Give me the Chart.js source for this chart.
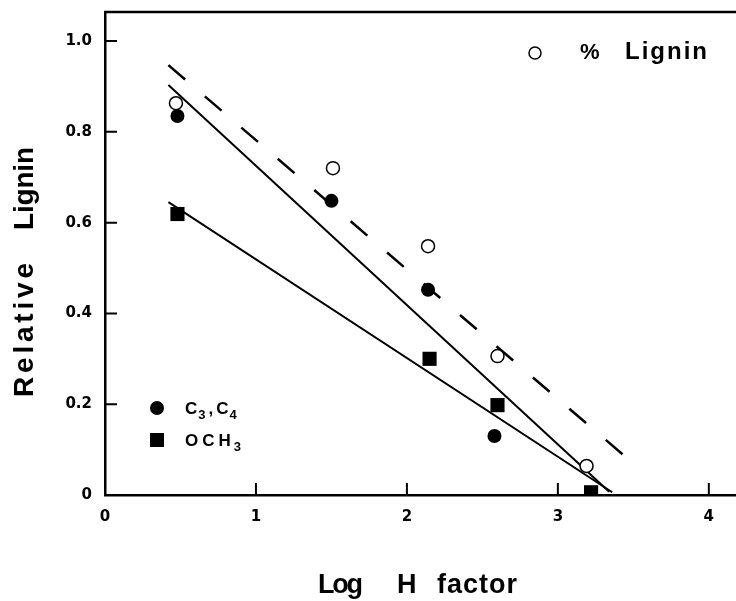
<!DOCTYPE html>
<html>
<head>
<meta charset="utf-8">
<script src="https://cdn.jsdelivr.net/npm/chart.js@4.4.1/dist/chart.umd.min.js"></script>
<style>
  html, body { margin: 0; padding: 0; background: #fff; }
  #wrap { width: 736px; height: 601px; }
</style>
</head>
<body>
<div id="wrap"><canvas id="ligninChart" width="736" height="601"></canvas></div>
<script>
// values: log H factor vs relative lignin
const pctLigninX = [0.47, 1.51, 2.14, 2.60, 3.19];
const pctLigninY = [0.863, 0.72, 0.548, 0.306, 0.064];
const c3c4X = [0.48, 1.50, 2.14, 2.58];
const c3c4Y = [0.835, 0.648, 0.452, 0.13];
const och3X = [0.48, 2.15, 2.60, 3.22];
const och3Y = [0.619, 0.30, 0.198, 0.006];

// fitted lines (end points)
const pctLigninFitX = [0.42, 3.48];
const pctLigninFitY = [0.947, 0.075];
const c3c4FitX = [0.42, 3.34];
const c3c4FitY = [0.903, 0.007];
const och3FitX = [0.42, 3.36];
const och3FitY = [0.645, 0.006];

const xTicks = [0, 1, 2, 3, 4];
const yTicks = [0, 0.2, 0.4, 0.6, 0.8, 1.0];
const xMax = 4.18;
const yMax = 1.064;

function pts(xs, ys) {
    return xs.map((x, i) => ({ x: x, y: ys[i] }));
}

// spread a word out so it fills x0..x1 (the original lettering is spaced)
function fitWord(ctx, text, x0, x1, base, font) {
    ctx.font = font;
    ctx.letterSpacing = '0px';
    const w = ctx.measureText(text).width;
    const sp = text.length > 1 ? (x1 - x0 - w) / (text.length - 1) : 0;
    ctx.letterSpacing = sp + 'px';
    ctx.textAlign = 'left';
    ctx.textBaseline = 'alphabetic';
    ctx.fillText(text, x0, base);
    ctx.letterSpacing = '0px';
}

// text with subscripts, e.g. C3,C4 ; gap = space after the piece
function subText(ctx, parts, x, base) {
    let cx = x;
    parts.forEach(p => {
        ctx.font = p.sub ? 'bold 13px "Liberation Sans"' : 'bold 17px "Liberation Sans"';
        ctx.letterSpacing = (p.ls || 0) + 'px';
        ctx.fillText(p.t, cx, base + (p.sub ? 5 : 0));
        cx += ctx.measureText(p.t).width + (p.gap || 0);
    });
    ctx.letterSpacing = '0px';
}

// drop the label overflow padding so the plot box sits where it does in the figure
function noPad(s) {
    s.paddingLeft = 0;
    s.paddingRight = 0;
    s.paddingTop = 0;
    s.paddingBottom = 0;
}

const extras = {
    id: 'extras',
    afterDraw(chart) {
        const ctx = chart.ctx;
        const xs = chart.scales.x, ys = chart.scales.y;
        const a = chart.chartArea;
        ctx.save();
        ctx.strokeStyle = '#000';
        ctx.fillStyle = '#000';

        // top frame line
        ctx.lineWidth = 2.5;
        ctx.beginPath();
        ctx.moveTo(a.left - 1, a.top);
        ctx.lineTo(a.right, a.top);
        ctx.stroke();

        // inward tick marks
        ctx.lineWidth = 2;
        ctx.beginPath();
        yTicks.forEach(v => {
            if (v === 0) return;
            const py = ys.getPixelForValue(v);
            ctx.moveTo(a.left, py);
            ctx.lineTo(a.left + 12, py);
        });
        xTicks.forEach(v => {
            if (v === 0) return;
            const px = xs.getPixelForValue(v);
            ctx.moveTo(px, a.bottom);
            ctx.lineTo(px, a.bottom - 12);
        });
        ctx.stroke();

        // legend, top right
        ctx.lineWidth = 1.5;
        ctx.fillStyle = '#fff';
        ctx.beginPath();
        ctx.arc(535, 53, 6, 0, Math.PI * 2);
        ctx.fill();
        ctx.stroke();
        ctx.fillStyle = '#000';
        fitWord(ctx, '%', 580, 597, 59, 'bold 22px "Liberation Sans"');
        fitWord(ctx, 'Lignin', 625, 707, 59, 'bold 24px "Liberation Sans"');

        // legend, bottom left
        ctx.beginPath();
        ctx.arc(157, 408, 7, 0, Math.PI * 2);
        ctx.fill();
        ctx.fillRect(150, 433, 14, 14);
        subText(ctx, [
            { t: 'C', gap: 1 }, { t: '3', sub: true, gap: 3 }, { t: ',', gap: 3 },
            { t: 'C', gap: 1 }, { t: '4', sub: true }
        ], 185, 414);
        subText(ctx, [{ t: 'OCH', ls: 4, gap: -1 }, { t: '3', sub: true }], 185, 446);

        // axis titles
        fitWord(ctx, 'Log', 318, 363, 593, 'bold 27px "Liberation Sans"');
        fitWord(ctx, 'H', 397, 418, 593, 'bold 27px "Liberation Sans"');
        fitWord(ctx, 'factor', 437, 517, 593, 'bold 27px "Liberation Sans"');

        ctx.translate(33, 0);
        ctx.rotate(-Math.PI / 2);
        fitWord(ctx, 'Relative', -397, -263, 0, 'bold 28px "Liberation Sans"');
        fitWord(ctx, 'Lignin', -230, -147, 0, 'bold 28px "Liberation Sans"');
        ctx.restore();
    }
};

const tickFont = { family: '"DejaVu Sans"', weight: 'bold', size: 15 };

const ligninChart = new Chart(document.getElementById('ligninChart'), {
    type: 'scatter',
    data: {
        datasets: [
            {
                // filled circles
                data: pts(c3c4X, c3c4Y),
                pointStyle: 'circle',
                pointRadius: 7,
                backgroundColor: '#000',
                borderColor: '#000',
                borderWidth: 0,
                order: 1
            },
            {
                // squares
                data: pts(och3X, och3Y),
                pointStyle: 'rect',
                pointRadius: 10,
                backgroundColor: '#000',
                borderColor: '#000',
                borderWidth: 0,
                order: 2
            },
            {
                // open circles
                data: pts(pctLigninX, pctLigninY),
                pointStyle: 'circle',
                pointRadius: 6.5,
                backgroundColor: '#fff',
                borderColor: '#000',
                borderWidth: 1.5,
                order: 3
            },
            {
                data: pts(pctLigninFitX, pctLigninFitY),
                showLine: true,
                pointRadius: 0,
                borderColor: '#000',
                borderWidth: 2.5,
                borderDash: [22, 26],
                order: 4
            },
            {
                data: pts(c3c4FitX, c3c4FitY),
                showLine: true,
                pointRadius: 0,
                borderColor: '#000',
                borderWidth: 2,
                order: 4
            },
            {
                data: pts(och3FitX, och3FitY),
                showLine: true,
                pointRadius: 0,
                borderColor: '#000',
                borderWidth: 2,
                order: 4
            }
        ]
    },
    options: {
        responsive: false,
        animation: false,
        layout: { autoPadding: false, padding: { top: 12, right: 0, left: 0, bottom: 0 } },
        plugins: {
            legend: { display: false },
            tooltip: { enabled: false }
        },
        scales: {
            x: {
                type: 'linear',
                min: 0,
                max: xMax,
                afterBuildTicks: s => { s.ticks = xTicks.map(v => ({ value: v })); },
                afterFit: s => { s.height = 106; noPad(s); },
                grid: { display: false, drawTicks: false },
                border: { display: true, color: '#000', width: 2.5 },
                ticks: {
                    padding: 13,
                    color: '#000',
                    font: tickFont,
                    maxRotation: 0,
                    autoSkip: false,
                    callback: v => String(v)
                }
            },
            y: {
                type: 'linear',
                min: 0,
                max: yMax,
                afterBuildTicks: s => { s.ticks = yTicks.map(v => ({ value: v })); },
                afterFit: s => { s.width = 105; noPad(s); },
                grid: { display: false, drawTicks: false },
                border: { display: true, color: '#000', width: 2.5 },
                ticks: {
                    padding: 13,
                    color: '#000',
                    font: tickFont,
                    autoSkip: false,
                    callback: v => v === 0 ? '0' : v.toFixed(1)
                }
            }
        }
    },
    plugins: [extras]
});
</script>
</body>
</html>
